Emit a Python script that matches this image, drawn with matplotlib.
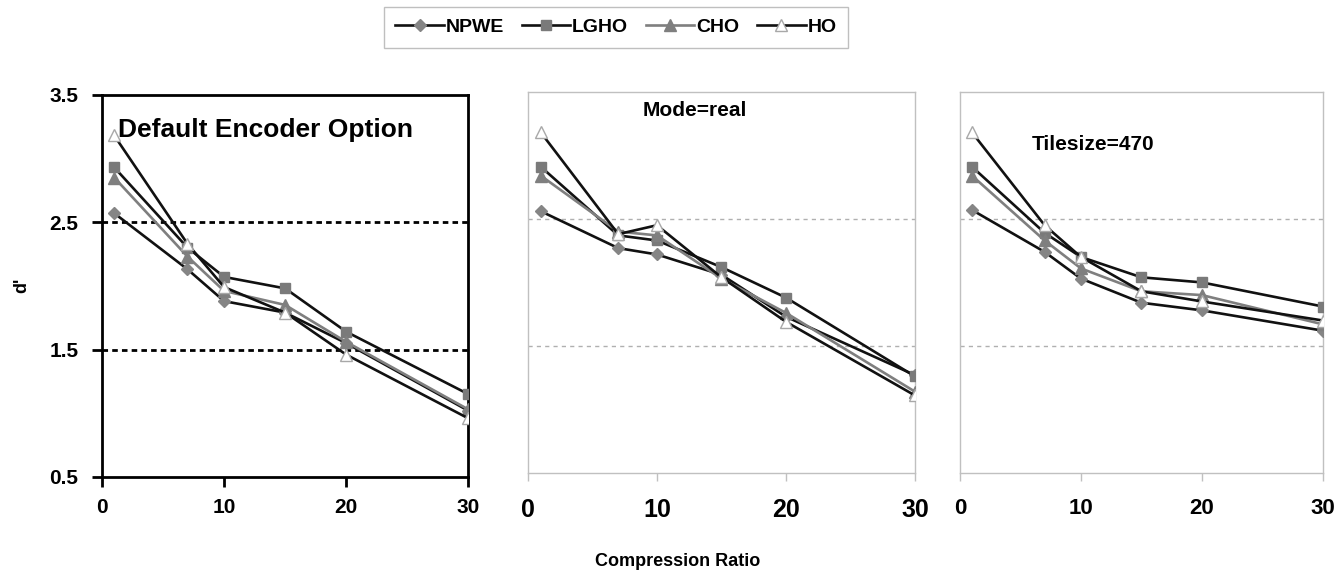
import numpy as np
import matplotlib.pyplot as plt

plt.rcParams['font.family'] = ['Liberation Sans', 'DejaVu Sans']
plt.rcParams['font.weight'] = 'bold'

ratio = [1, 7, 10, 15, 20, 30]

# panel 1: default encoder option
p1_npwe = [2.57, 2.13, 1.88, 1.79, 1.55, 1.02]
p1_lgho = [2.93, 2.30, 2.07, 1.98, 1.64, 1.15]
p1_cho = [2.85, 2.23, 1.96, 1.85, 1.56, 1.03]
p1_ho = [3.18, 2.33, 1.99, 1.79, 1.46, 0.96]

# panel 2: mode=real
p2_npwe = [2.56, 2.27, 2.22, 2.06, 1.73, 1.27]
p2_lgho = [2.91, 2.37, 2.33, 2.12, 1.88, 1.26]
p2_cho = [2.84, 2.40, 2.37, 2.03, 1.76, 1.14]
p2_ho = [3.18, 2.38, 2.45, 2.04, 1.69, 1.11]

# panel 3: tilesize=470
p3_npwe = [2.57, 2.24, 2.03, 1.84, 1.78, 1.62]
p3_lgho = [2.91, 2.39, 2.20, 2.04, 2.00, 1.81]
p3_cho = [2.84, 2.33, 2.11, 1.93, 1.90, 1.67]
p3_ho = [3.18, 2.45, 2.20, 1.93, 1.85, 1.70]

panels = [
    ('Default Encoder Option', [p1_npwe, p1_lgho, p1_cho, p1_ho]),
    ('Mode=real', [p2_npwe, p2_lgho, p2_cho, p2_ho]),
    ('Tilesize=470', [p3_npwe, p3_lgho, p3_cho, p3_ho]),
]
names = ['NPWE', 'LGHO', 'CHO', 'HO']

# line color, marker, marker face, marker edge, size
styles = [
    ('#111111', 'D', '#858585', '#858585', 6),
    ('#111111', 's', '#7a7a7a', '#7a7a7a', 7),
    ('#7f7f7f', '^', '#7f7f7f', '#7f7f7f', 8),
    ('#111111', '^', 'white', '#a8a8a8', 8),
]

fig = plt.figure(figsize=(13.42, 5.74), dpi=100)
rects = [
    [0.076, 0.169, 0.273, 0.666],
    [0.3934, 0.176, 0.2884, 0.664],
    [0.7153, 0.176, 0.2705, 0.664],
]
tick_sizes = [15, 18, 16]

axes = []
for i, (title, series) in enumerate(panels):
    ax = fig.add_axes(rects[i])
    axes.append(ax)
    for vals, name, (lc, mk, mf, me, ms) in zip(series, names, styles):
        ax.plot(ratio, vals, color=lc, lw=1.9, marker=mk, mfc=mf, mec=me,
                ms=ms, label=name, zorder=3)
    ax.set_xlim(0, 30)
    ax.set_ylim(0.5, 3.5)
    ax.set_xticks([0, 10, 20, 30])
    if i == 0:
        for s in ax.spines.values():
            s.set_color('black')
            s.set_linewidth(2)
        ax.set_yticks([0.5, 1.5, 2.5, 3.5])
        ax.set_yticklabels(['0.5', '1.5', '2.5', '3.5'])
        ax.tick_params(axis='both', width=2, length=7, color='black',
                       labelsize=tick_sizes[i], pad=8)
        ax.tick_params(axis='y', pad=10)
        for y in [1.5, 2.5]:
            ax.axhline(y, color='black', lw=2, ls=(0, (2, 1.5)), zorder=1)
        ax.text(1.3, 3.22, title, fontsize=19, fontweight='bold', va='center')
        ax.set_ylabel("d'", fontsize=13, fontweight='bold', labelpad=14)
    else:
        for s in ax.spines.values():
            s.set_color('#c0c0c0')
            s.set_linewidth(1)
        ax.set_yticks([])
        ax.tick_params(axis='x', width=1, length=6, color='#c0c0c0',
                       labelsize=tick_sizes[i], pad=12)
        for y in [1.5, 2.5]:
            ax.axhline(y, color='#b0b0b0', lw=1, ls=(0, (3, 3)), zorder=1)
        if i == 1:
            ax.text(0.297, 0.95, title, transform=ax.transAxes, fontsize=15,
                    fontweight='bold', va='center')
        else:
            ax.text(0.198, 0.861, title, transform=ax.transAxes, fontsize=15,
                    fontweight='bold', va='center')

fig.text(0.443, 0.021, 'Compression Ratio', ha='left', va='center',
         fontsize=13, fontweight='bold')

handles, labels = axes[0].get_legend_handles_labels()
leg = fig.legend(handles, labels, loc='upper center', ncol=4,
                 bbox_to_anchor=(0.459, 0.998), fontsize=14, frameon=True,
                 fancybox=False, edgecolor='#b0b0b0', handlelength=2.5,
                 handletextpad=0.1, columnspacing=0.9, borderpad=0.6,
                 borderaxespad=0.3)
leg.get_frame().set_linewidth(1)

fig.savefig('out.png', dpi=100)
